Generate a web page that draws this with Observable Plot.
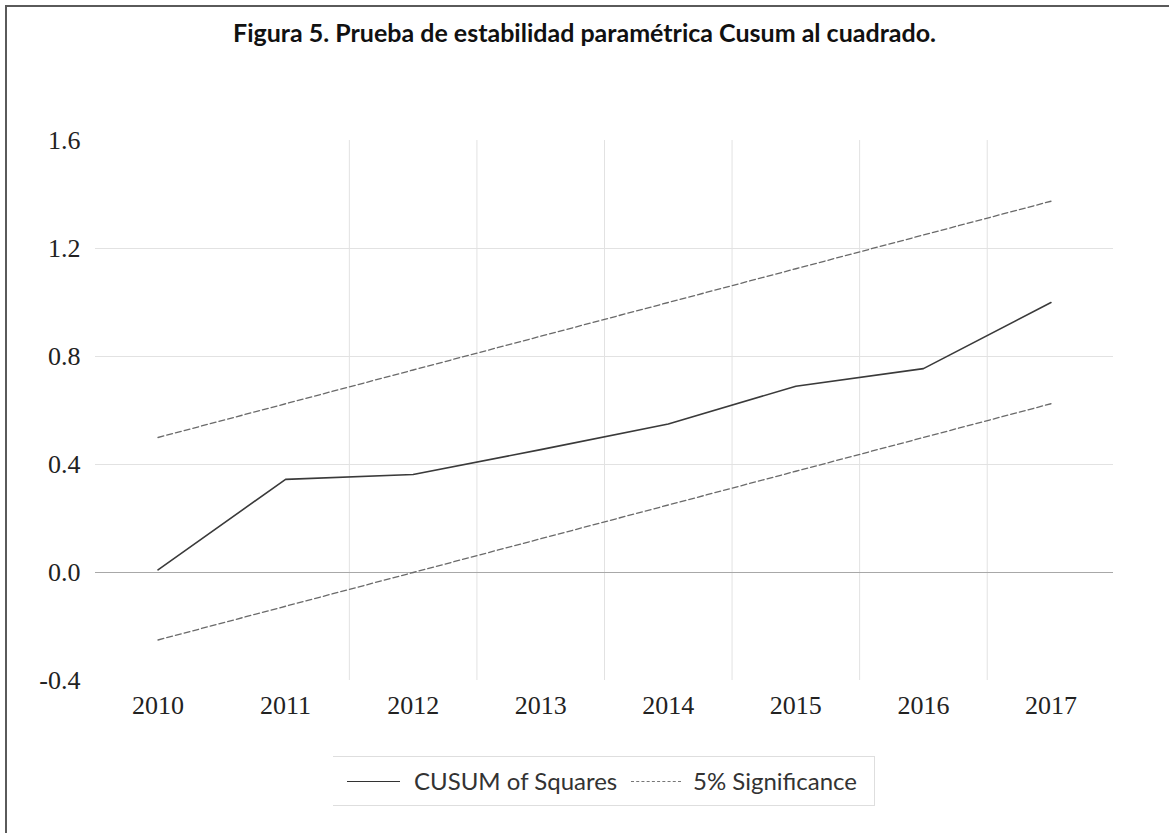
<!DOCTYPE html>
<html lang="es">
<head>
<meta charset="utf-8">
<script src="https://cdn.jsdelivr.net/npm/d3@7"></script>
<script src="https://cdn.jsdelivr.net/npm/@observablehq/plot@0.6"></script>
<style>
  html, body { margin: 0; padding: 0; background: #fff; }
  #page { position: relative; width: 1169px; height: 833px; overflow: hidden; background: #fff; }
  #frame { position: absolute; left: 5px; top: 5px; right: -10px; bottom: -10px;
           border-left: 2px solid #5a5a5a; border-top: 2px solid #5a5a5a; }
  #title { position: absolute; left: 0; width: 1169px; top: 18px; text-align: center;
           font-family: Lato, "Open Sans", sans-serif; font-weight: 700; font-size: 25px;
           line-height: 28px; color: #111; }
  #chart { position: absolute; left: 0; top: 0; }
  #legend { position: absolute; left: 333px; top: 756px; width: 541px; height: 48px;
            border-top: 1px solid #dedede; border-bottom: 1px solid #dedede; border-right: 1px solid #dedede;
            font-family: Lato, "Open Sans", sans-serif; font-size: 24px; color: #333; }
  .key { position: absolute; top: 24px; height: 0; }
  .lab { position: absolute; top: 10px; line-height: 28px; white-space: nowrap; }
</style>
</head>
<body>
<div id="page">
  <div id="frame"></div>
  <div id="title">Figura 5. Prueba de estabilidad paramétrica Cusum al cuadrado.</div>
  <div id="chart"></div>
  <div id="legend">
    <div class="key" style="left:14px;width:53px;border-top:1.5px solid #333;"></div>
    <div class="lab" style="left:81px;">CUSUM of Squares</div>
    <div class="key" style="left:298px;width:50px;border-top:1.5px dashed #777;"></div>
    <div class="lab" style="left:360px;">5% Significance</div>
  </div>
</div>
<script>
// CUSUM of squares test, with its 5% significance bands
const years = [2010, 2011, 2012, 2013, 2014, 2015, 2016, 2017];
const cusumSq = [0.01, 0.345, 0.363, 0.455, 0.55, 0.69, 0.755, 1.0];
const upper5 = [0.5, 0.625, 0.75, 0.875, 1.0, 1.125, 1.25, 1.375];
const lower5 = [-0.25, -0.125, 0.0, 0.125, 0.25, 0.375, 0.5, 0.625];
const yTicks = [-0.4, 0.0, 0.4, 0.8, 1.2, 1.6];

const rows = years.map((year, i) => ({year, cusum: cusumSq[i], upper: upper5[i], lower: lower5[i]}));
// vertical grid sits halfway between consecutive years
const midYears = years.slice(1, -1).map(y => y + 0.5);
const innerGrid = yTicks.filter(v => v !== 0 && v !== yTicks[0] && v !== yTicks[yTicks.length - 1]);

const chart = Plot.plot({
  width: 1169,
  height: 740,
  marginTop: 140,
  marginBottom: 60,
  marginLeft: 95,
  marginRight: 56,
  x: {domain: [2009.51, 2017.49]},
  y: {domain: [-0.4, 1.6]},
  style: {fontFamily: "'Liberation Serif', 'Times New Roman', serif", fontSize: "26px", color: "#222", background: "none"},
  marks: [
    Plot.ruleX(midYears, {y1: -0.4, y2: 1.6, stroke: "#e2e2e2", strokeWidth: 1}),
    Plot.ruleY(innerGrid, {stroke: "#e2e2e2", strokeWidth: 1}),
    Plot.ruleY([0], {stroke: "#a8a8a8", strokeWidth: 1.2}),
    Plot.line(rows, {x: "year", y: "upper", stroke: "#6a6a6a", strokeWidth: 1.3, strokeDasharray: "6,3"}),
    Plot.line(rows, {x: "year", y: "lower", stroke: "#6a6a6a", strokeWidth: 1.3, strokeDasharray: "6,3"}),
    Plot.line(rows, {x: "year", y: "cusum", stroke: "#3a3a3a", strokeWidth: 1.6}),
    Plot.axisY(yTicks, {tickSize: 0, tickPadding: 15, tickFormat: d => d.toFixed(1), label: null}),
    Plot.axisX(years, {tickSize: 0, tickPadding: 15, tickFormat: d => String(d), label: null})
  ]
});
document.getElementById("chart").appendChild(chart);
</script>
</body>
</html>
